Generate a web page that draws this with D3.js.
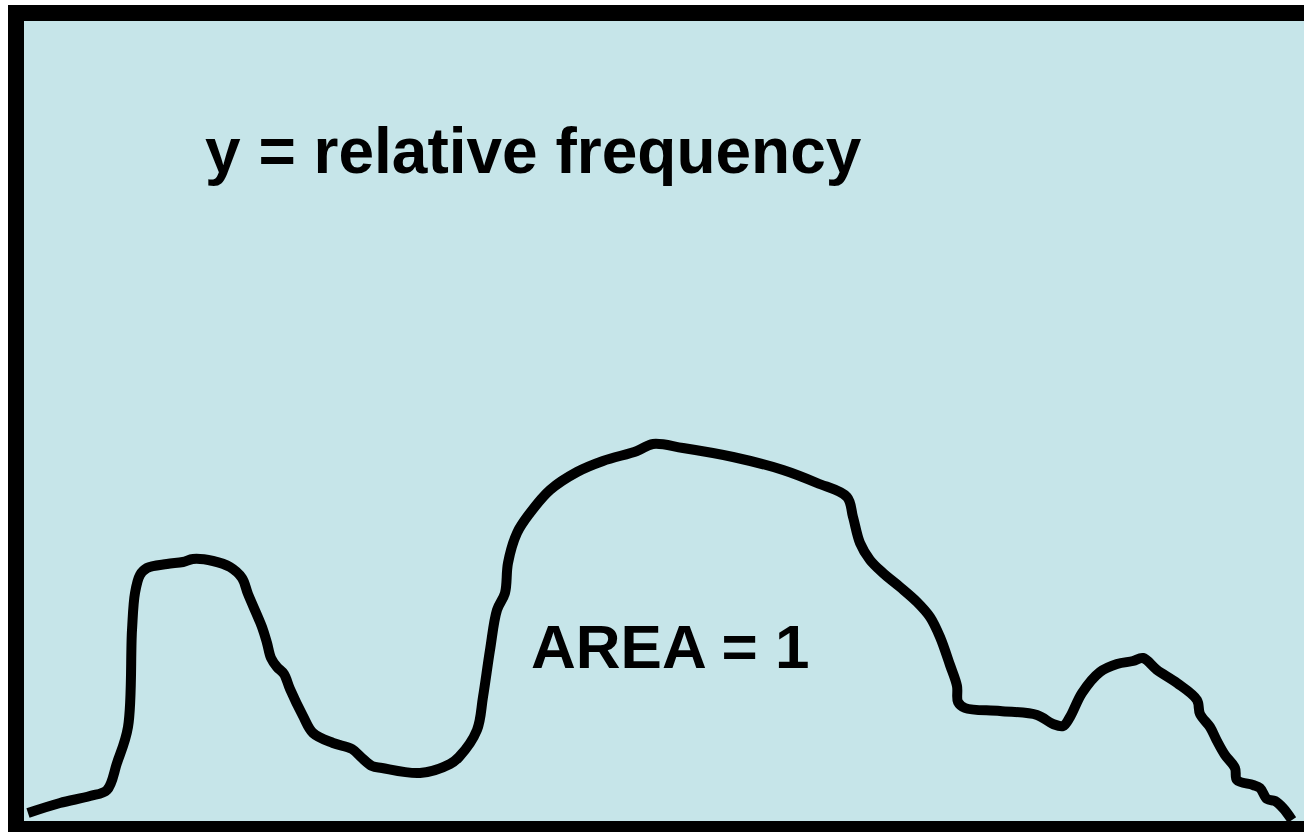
<!DOCTYPE html>
<html>
<head>
<meta charset="utf-8">
<script src="https://cdn.jsdelivr.net/npm/d3@7"></script>
<style>
  html, body { margin: 0; padding: 0; background: #ffffff; overflow: hidden; }
  svg { display: block; }
</style>
</head>
<body>
<svg id="chart" width="1304" height="832"></svg>
<script>
// Data: horizontal position (value units) and relative frequency (value units)
const xValues = [4,36,66,83,93,104,108,111,116,123,143,159,169,189,206,218,224,238,243,247,253,260,266,279,289,309,328,338,348,358,396,426,435,453,459,466,473,481,484,493,506,526,553,579,613,629,659,709,759,793,823,829,836,846,859,876,893,906,916,926,933,934,941,976,1013,1029,1039,1046,1058,1076,1093,1109,1119,1133,1153,1173,1176,1186,1193,1201,1211,1213,1229,1236,1243,1251,1259,1268];
const freqValues = [8,18,25,31,58,94,191,228,246,253,257,259,262,260,254,243,227,194,178,163,154,147,132,105,88,78,72,63,55,53,48,57,64,91,124,171,211,228,258,288,308,331,349,360,370,377,373,364,351,338,324,304,278,261,248,234,219,204,184,156,135,119,113,110,106,97,95,104,128,149,157,160,163,151,138,121,107,94,80,66,53,41,36,33,22,20,13,1];

const titleText = "y = relative frequency";
const areaText = "AREA = 1";

const W = 1304, H = 832;
const svg = d3.select("#chart");

// scales: value units -> pixels (inner frame 24..1304, 821..21)
const x = d3.scaleLinear().domain([0, 1280]).range([24, 1304]);
const y = d3.scaleLinear().domain([0, 800]).range([821, 21]);

svg.append("rect").attr("x", 0).attr("y", 0).attr("width", W).attr("height", H).attr("fill", "#ffffff");

// panel
svg.append("rect")
  .attr("x", 16).attr("y", 13)
  .attr("width", 1320).attr("height", 816)
  .attr("fill", "#C6E5E9")
  .attr("stroke", "#000000")
  .attr("stroke-width", 16);

const pts = xValues.map((v, i) => [v, freqValues[i]]);
const line = d3.line().x(d => x(d[0])).y(d => y(d[1])).curve(d3.curveCatmullRom.alpha(0.5));

const clip = svg.append("clipPath").attr("id", "inner");
clip.append("rect").attr("x", 24).attr("y", 21).attr("width", 1290).attr("height", 800);

svg.append("path")
  .datum(pts)
  .attr("d", line)
  .attr("fill", "none")
  .attr("stroke", "#000000")
  .attr("stroke-width", 10)
  .attr("stroke-linejoin", "round")
  .attr("stroke-linecap", "butt")
  .attr("clip-path", "url(#inner)");

svg.append("text")
  .attr("x", 205).attr("y", 173)
  .attr("font-family", "Liberation Sans, Arial, sans-serif")
  .attr("font-weight", "bold")
  .attr("font-size", 64)
  .attr("fill", "#000000")
  .text(titleText);

svg.append("text")
  .attr("x", 531).attr("y", 668)
  .attr("font-family", "Liberation Sans, Arial, sans-serif")
  .attr("font-weight", "bold")
  .attr("font-size", 62)
  .attr("fill", "#000000")
  .text(areaText);
</script>
</body>
</html>
